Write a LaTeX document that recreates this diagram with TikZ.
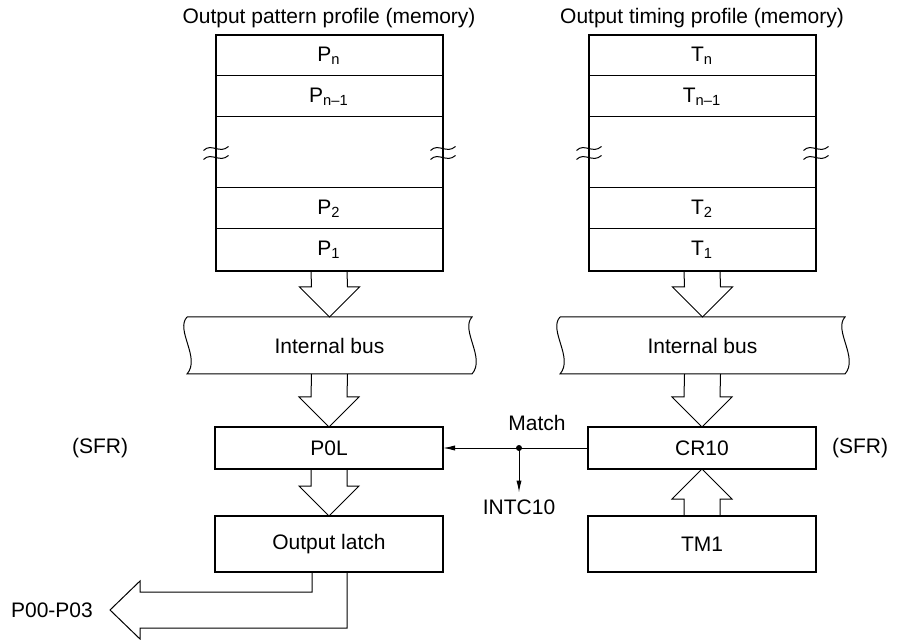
\documentclass[tikz,border=0pt]{standalone}
\usepackage{fontspec}
\setmainfont{Liberation Sans}
\usetikzlibrary{arrows.meta,positioning,calc}

% hollow block arrow: tail, tip, head offset
\newcommand{\fatarrow}[3]{%
  \draw[fat] ($(#1)+(-18,0)$) -- ($(#2)+(-18,#3)$) -- ($(#2)+(-30,#3)$)
    -- (#2) -- ($(#2)+(30,#3)$) -- ($(#2)+(18,#3)$) -- ($(#1)+(18,0)$);}
% bus outline with wavy ends
\newcommand{\busline}[1]{%
  \draw[thinline] (#1.north west) -- (#1.north east)
    .. controls ($(#1.north east)+(-12,13)$) and ($(#1.south east)+(14,-16)$) .. (#1.south east)
    -- (#1.south west)
    .. controls ($(#1.south west)+(14,-16)$) and ($(#1.north west)+(-12,13)$) .. (#1.north west);}
% break marks on a memory edge
\newcommand{\brkmark}[1]{%
  \draw[thinline] ($(#1)+(-12,-2)$) .. controls ($(#1)+(-4,-10)$) and ($(#1)+(4,2)$) .. ($(#1)+(13,-6)$);
  \draw[thinline] ($(#1)+(-12,7)$) .. controls ($(#1)+(-4,-1)$) and ($(#1)+(4,11)$) .. ($(#1)+(13,3)$);}

\begin{document}
\begin{tikzpicture}[
  x=0.5pt, y=-0.5pt,
  font=\fontsize{10.5}{12.6}\selectfont,
  >={Latex[length=6pt,width=2.6pt]},
  thinline/.style={line width=0.5pt},
  fat/.style={line width=0.5pt, line join=miter},
  row/.style={draw, line width=0.5pt, minimum width=113.5pt,
    minimum height=20.5pt, inner sep=0pt, outer sep=0pt},
  box/.style={draw, line width=1pt, minimum width=114pt,
    minimum height=21pt, inner sep=0pt, outer sep=0pt},
  bus/.style={minimum width=142.5pt, minimum height=28.5pt,
    inner sep=0pt, outer sep=0pt},
  sig/.style={line width=0.5pt},
]
  \useasboundingbox (0,0) rectangle (898,640);

  % Titles
  \node (ptitle) at (329,18) {Output pattern profile (memory)};
  \node (ttitle) at (702,18) {Output timing profile (memory)};

  % Pattern memory
  \node[row] (pn) at (329,55.5) {P\textsubscript{n}};
  \node[row, below=0pt of pn] (pn1) {P\textsubscript{n--1}};
  \node[row, below=0pt of pn1, minimum height=35.5pt] (pgap) {};
  \node[row, below=0pt of pgap] (p2) {P\textsubscript{2}};
  \node[row, below=0pt of p2, minimum height=21pt] (p1) {P\textsubscript{1}};
  \draw[line width=1pt] (pn.north west) rectangle (p1.south east);
  \brkmark{pgap.west}
  \brkmark{pgap.east}

  % Timing memory
  \node[row] (tn) at (702,55.5) {T\textsubscript{n}};
  \node[row, below=0pt of tn] (tn1) {T\textsubscript{n--1}};
  \node[row, below=0pt of tn1, minimum height=35.5pt] (tgap) {};
  \node[row, below=0pt of tgap] (t2) {T\textsubscript{2}};
  \node[row, below=0pt of t2, minimum height=21pt] (t1) {T\textsubscript{1}};
  \draw[line width=1pt] (tn.north west) rectangle (t1.south east);
  \brkmark{tgap.west}
  \brkmark{tgap.east}

  % Internal buses
  \node[bus] (pbus) at (329.5,345.5) {Internal bus};
  \node[bus] (tbus) at (702.5,345.5) {Internal bus};
  \busline{pbus}
  \busline{tbus}

  % Registers and counters
  \node[box] (p0l) at (329,448) {P0L};
  \node[box] (cr10) at (702,448) {CR10};
  \node[box, minimum height=28pt] (latch) at (329,544) {Output latch};
  \node[box, minimum height=28pt] (tm1) at (702,544) {TM1};
  \node (sfrl) at (100,448) {(SFR)};
  \node (sfrr) at (860,448) {(SFR)};

  % Block arrows
  \fatarrow{p1.south}{pbus.north}{-30}
  \fatarrow{pbus.south}{p0l.north}{-30}
  \fatarrow{p0l.south}{latch.north}{-30}
  \fatarrow{t1.south}{tbus.north}{-30}
  \fatarrow{tbus.south}{cr10.north}{-30}
  \fatarrow{tm1.north}{cr10.south}{30}

  % Match signal
  \coordinate (jn) at (519,448);
  \node (match) at (537,423) {Match};
  \node (intc) at (519,507) {INTC10};
  \draw[sig, ->] (cr10.west) -- (p0l.east);
  \fill (jn) circle (1.5pt);
  \draw[sig, ->] (jn) -- (intc.north);

  % Port output
  \coordinate (ptip) at (110,610);
  \node (pout) at (52,610) {P00-P03};
  \draw[fat] ($(latch.south)+(-17,0)$) |- ($(ptip)+(30,-18)$)
    -- ($(ptip)+(30,-29)$) -- (ptip) -- ($(ptip)+(30,29)$)
    -- ($(ptip)+(30,18)$) -| ($(latch.south)+(18,0)$);
\end{tikzpicture}
\end{document}
